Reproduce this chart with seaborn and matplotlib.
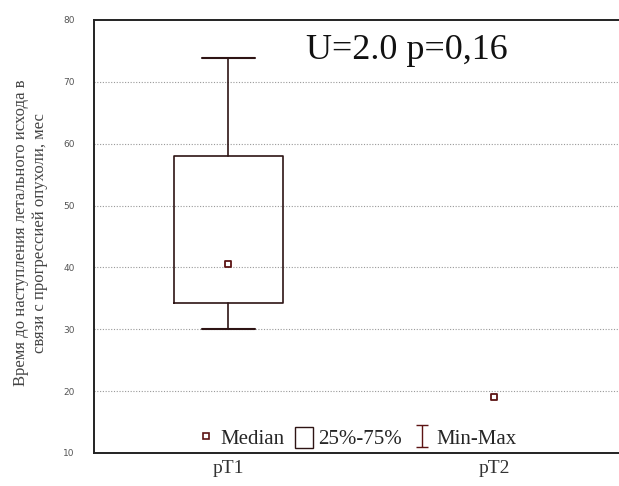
import matplotlib
matplotlib.use("Agg")
import matplotlib.pyplot as plt
import seaborn as sns
import pandas as pd
from matplotlib.lines import Line2D
from matplotlib.patches import Patch
from matplotlib.path import Path

# values
groups = ["pT1", "pT2"]
medians = [40.5, 19.0]
q25 = [34.3, 19.0]
q75 = [58.0, 19.0]
mins = [30.0, 19.0]
maxs = [73.8, 19.0]
y_ticks = [10, 20, 30, 40, 50, 60, 70, 80]

stat_text = "U=2.0 p=0,16"
y_label = "Время до наступления летального исхода в\nсвязи с прогрессией опухоли, мес"

sns.set_style("white")
plt.rcParams['font.family'] = ['Liberation Serif', 'DejaVu Serif']

line_col = "#2e1414"
mark_col = "#5c1414"

fig = plt.figure(figsize=(6.19, 4.86), dpi=100)
ax = fig.add_axes([0.152, 0.068, 0.848, 0.891])

# box + whiskers only for groups with spread
stats = []
for i, g in enumerate(groups):
    if q75[i] > q25[i]:
        stats.append(dict(label=g, med=medians[i], q1=q25[i], q3=q75[i],
                          whislo=mins[i], whishi=maxs[i], fliers=[]))
box_pos = [i for i in range(len(groups)) if q75[i] > q25[i]]
ax.bxp(stats, positions=box_pos, widths=0.41, showfliers=False,
       boxprops=dict(color=line_col, linewidth=1.2),
       whiskerprops=dict(color=line_col, linewidth=1.2),
       capprops=dict(color=line_col, linewidth=1.5),
       medianprops=dict(linewidth=0), capwidths=0.2)

df = pd.DataFrame({"x": list(range(len(groups))), "median": medians})
sns.scatterplot(data=df, x="x", y="median", ax=ax, marker="s", s=16,
                facecolor="white", edgecolor=mark_col, linewidth=1.3, zorder=5)

ax.set_xlim(-0.504, 1.47)
ax.set_ylim(10, 80)
ax.set_yticks(y_ticks)
ax.set_yticklabels([str(t) for t in y_ticks], family="DejaVu Sans",
                   fontsize=6.5, color="#555555")
ax.set_xticks(range(len(groups)))
ax.set_xticklabels(groups, fontsize=14, color="#333333")
ax.set_xlabel("")
ax.set_ylabel(y_label, fontsize=12, color="#444444", linespacing=1.25)
ax.yaxis.set_label_coords(-0.088, 0.508)
ax.tick_params(axis="both", direction="in", length=3, color="#333333")
ax.tick_params(axis="x", pad=5)
ax.tick_params(axis="y", pad=14)

for yv in y_ticks[1:-1]:
    ax.axhline(yv, color="#999999", linestyle=(0, (1, 1.5)), linewidth=0.8,
               zorder=0)

for side in ["top", "bottom", "left"]:
    ax.spines[side].set_color("#222222")
    ax.spines[side].set_linewidth(1.4)
ax.spines["right"].set_visible(False)

ax.text(0.673, 75.0, stat_text, fontsize=26, ha="center", va="center",
        color="#111111")

ibar = Path([(-0.5, 1), (0.5, 1), (0, 1), (0, -1), (-0.5, -1), (0.5, -1)],
            [Path.MOVETO, Path.LINETO, Path.MOVETO, Path.LINETO,
             Path.MOVETO, Path.LINETO])
handles = [
    Line2D([], [], marker="s", markersize=4, markerfacecolor="white",
           markeredgecolor=mark_col, markeredgewidth=1.2, linestyle="none"),
    Patch(facecolor="white", edgecolor=line_col, linewidth=1.0),
    Line2D([], [], marker=ibar, markersize=16, color=mark_col,
           markeredgewidth=1.0, linestyle="none"),
]
ax.legend(handles, ["Median", "25%-75%", "Min-Max"], loc="lower center",
          bbox_to_anchor=(0.50, -0.035), ncol=3, frameon=False, fontsize=15,
          handlelength=0.9, handletextpad=0.25, columnspacing=0.5,
          handleheight=1.2)

fig.savefig("out.png", dpi=100)
